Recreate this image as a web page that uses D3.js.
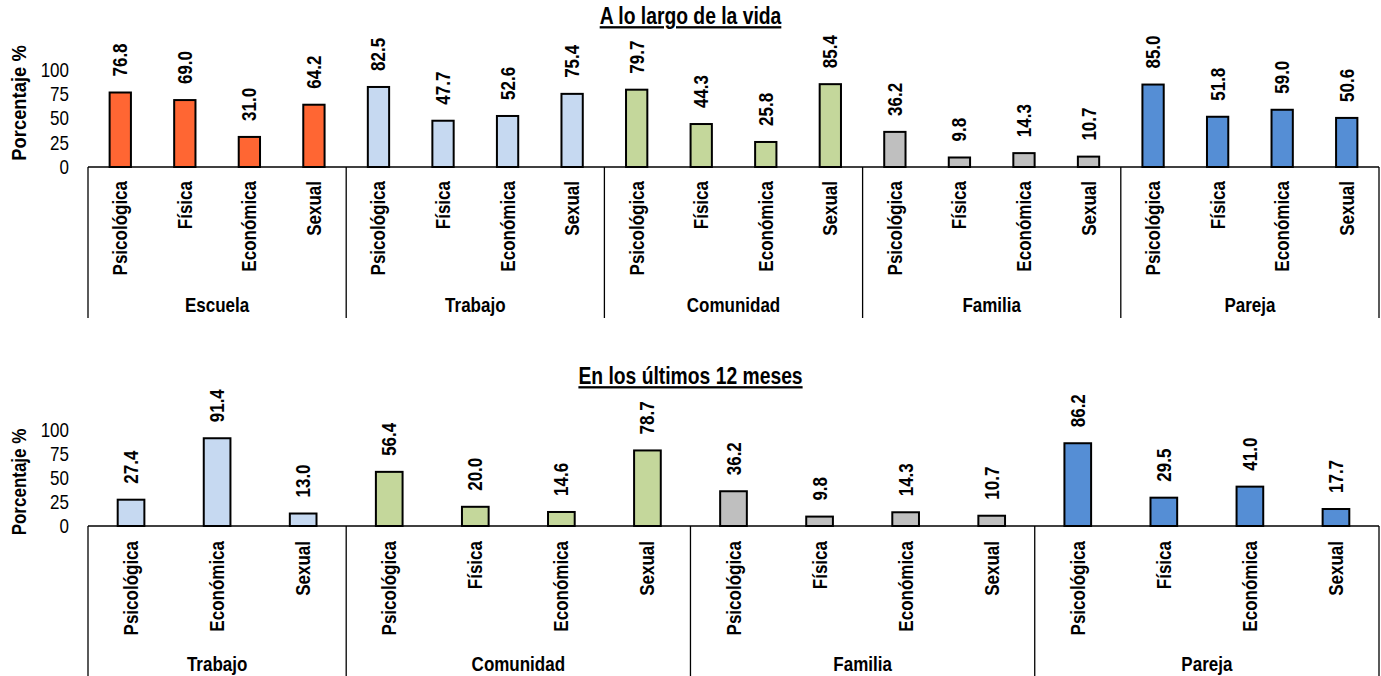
<!DOCTYPE html>
<html lang="es">
<head>
    <meta charset="UTF-8">
    <title>Porcentaje por tipo de violencia</title>
    <script src="https://d3js.org/d3.v7.min.js"></script>
</head>

<style>
    html, body {
        margin: 0;
        padding: 0;
        background: #fff;
    }

    svg text {
        font-family: "Liberation Sans", Arial, sans-serif;
        fill: #000;
    }
</style>
<body>
<svg id="chart" width="1381" height="676"></svg>

<script>
    // data
    var types = ['Psicológica', 'Física', 'Económica', 'Sexual']

    var lifeTitle = 'A lo largo de la vida'
    var lifeGroups = ['Escuela', 'Trabajo', 'Comunidad', 'Familia', 'Pareja']
    var lifeTypes = [types, types, types, types, types]
    var lifeValues = [
        [76.8, 69.0, 31.0, 64.2],
        [82.5, 47.7, 52.6, 75.4],
        [79.7, 44.3, 25.8, 85.4],
        [36.2, 9.8, 14.3, 10.7],
        [85.0, 51.8, 59.0, 50.6]
    ]

    var yearTitle = 'En los últimos 12 meses'
    var yearGroups = ['Trabajo', 'Comunidad', 'Familia', 'Pareja']
    var yearTypes = [['Psicológica', 'Económica', 'Sexual'], types, types, types]
    var yearValues = [
        [27.4, 91.4, 13.0],
        [56.4, 20.0, 14.6, 78.7],
        [36.2, 9.8, 14.3, 10.7],
        [86.2, 29.5, 41.0, 17.7]
    ]

    var yTicks = [0, 25, 50, 75, 100]
    var yLabel = 'Porcentaje %'

    var groupColors = {
        Escuela: '#ff6633',
        Trabajo: '#c6d9f1',
        Comunidad: '#c4d79b',
        Familia: '#bfbfbf',
        Pareja: '#558ed5'
    }

    // the original text is a narrow face, so squeeze a normal one
    var squeeze = 0.85

    var svg = d3.select('#chart')

    // flatten groups into one row of bars
    function rows(groups, typeLists, values) {
        var out = []
        groups.forEach(function (g, i) {
            typeLists[i].forEach(function (t, j) {
                out.push({group: g, type: t, value: values[i][j], key: g + '|' + t})
            })
        })
        return out
    }

    function panel(cfg) {
        var data = rows(cfg.groups, cfg.types, cfg.values)
        var g = svg.append('g')

        var x = d3.scaleBand()
            .domain(data.map(function (d) { return d.key }))
            .range([88, 1379])
            .paddingInner(cfg.pad)
            .paddingOuter(cfg.pad / 2)
        var step = x.step()
        var left = x.range()[0]

        var y = d3.scaleLinear().domain([0, 100]).range([cfg.base, cfg.top])

        // title
        g.append('text')
            .attr('transform', 'translate(690.5,' + cfg.titleY + ') scale(0.84,1)')
            .attr('text-anchor', 'middle')
            .style('font-size', '23px')
            .style('font-weight', 'bold')
            .style('text-decoration', 'underline')
            .text(cfg.title)

        // y axis, labels only
        var yAxis = g.append('g')
            .attr('transform', 'translate(69,0)')
            .call(d3.axisLeft(y).tickValues(yTicks).tickSize(0).tickPadding(0))
        yAxis.select('.domain').remove()
        yAxis.selectAll('text')
            .attr('x', 0)
            .attr('transform', 'scale(' + squeeze + ',1)')
            .style('font-size', '20px')
            .style('font-family', '"Liberation Sans", Arial, sans-serif')

        g.append('text')
            .attr('transform', 'translate(19,' + cfg.yLabelMid + ') rotate(-90) scale(' + cfg.yLabelScale + ',1)')
            .attr('text-anchor', 'middle')
            .attr('dy', '0.35em')
            .style('font-size', '20px')
            .style('font-weight', 'bold')
            .text(yLabel)

        // bars
        g.selectAll('rect.bar')
            .data(data)
            .enter().append('rect')
            .attr('class', 'bar')
            .attr('x', function (d) { return x(d.key) })
            .attr('y', function (d) { return y(d.value) })
            .attr('width', x.bandwidth())
            .attr('height', function (d) { return y(0) - y(d.value) })
            .attr('fill', function (d) { return groupColors[d.group] })
            .attr('stroke', '#000')
            .attr('stroke-width', 2)

        // value labels
        g.selectAll('text.val')
            .data(data)
            .enter().append('text')
            .attr('class', 'val')
            .attr('transform', function (d) {
                return 'translate(' + (x(d.key) + x.bandwidth() / 2) + ',' + (y(d.value) - 16) + ') rotate(-90) scale(' + squeeze + ',1)'
            })
            .attr('dy', '0.35em')
            .style('font-size', '20px')
            .style('font-weight', 'bold')
            .text(function (d) { return d.value.toFixed(1) })

        // category axis: baseline and group separators
        g.append('line')
            .attr('x1', left).attr('x2', x.range()[1])
            .attr('y1', y(0)).attr('y2', y(0))
            .attr('stroke', '#000').attr('stroke-width', 1.3)

        var bounds = [0]
        cfg.types.forEach(function (t, i) { bounds.push(bounds[i] + t.length) })
        g.selectAll('line.sep')
            .data(bounds)
            .enter().append('line')
            .attr('class', 'sep')
            .attr('x1', function (n) { return left + n * step })
            .attr('x2', function (n) { return left + n * step })
            .attr('y1', y(0))
            .attr('y2', cfg.sepBottom)
            .attr('stroke', '#000')
            .attr('stroke-width', 1.3)

        g.selectAll('text.cat')
            .data(data)
            .enter().append('text')
            .attr('class', 'cat')
            .attr('transform', function (d) {
                return 'translate(' + (x(d.key) + x.bandwidth() / 2) + ',' + cfg.catY + ') rotate(-90) scale(' + squeeze + ',1)'
            })
            .attr('text-anchor', 'end')
            .attr('dy', '0.35em')
            .style('font-size', '20px')
            .style('font-weight', 'bold')
            .text(function (d) { return d.type })

        g.selectAll('text.grp')
            .data(cfg.groups)
            .enter().append('text')
            .attr('class', 'grp')
            .attr('transform', function (d, i) {
                var cx = left + (bounds[i] + bounds[i + 1]) / 2 * step
                return 'translate(' + cx + ',' + cfg.groupY + ') scale(' + squeeze + ',1)'
            })
            .attr('text-anchor', 'middle')
            .style('font-size', '20px')
            .style('font-weight', 'bold')
            .text(function (d) { return d })
    }

    panel({
        title: lifeTitle, groups: lifeGroups, types: lifeTypes, values: lifeValues,
        pad: 0.67, base: 167, top: 70, titleY: 24, yLabelMid: 103, yLabelScale: 0.92,
        catY: 181, sepBottom: 318, groupY: 312
    })

    panel({
        title: yearTitle, groups: yearGroups, types: yearTypes, values: yearValues,
        pad: 0.69, base: 526, top: 430, titleY: 384, yLabelMid: 482, yLabelScale: 0.85,
        catY: 541, sepBottom: 676, groupY: 671
    })
</script>
</body>
</html>
